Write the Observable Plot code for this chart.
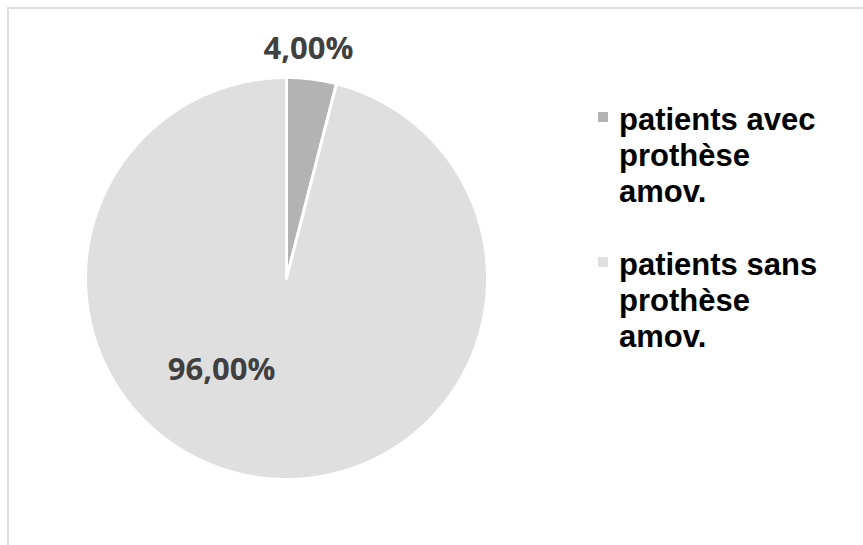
<!DOCTYPE html>
<html>
<head>
<meta charset="utf-8">
<script src="https://cdn.jsdelivr.net/npm/d3@7"></script>
<script src="https://cdn.jsdelivr.net/npm/@observablehq/plot@0.6"></script>
<style>
  html, body { margin: 0; padding: 0; background: #fff; }
  #wrap { position: relative; width: 863px; height: 545px; overflow: hidden; }
  #frame { position: absolute; left: 7px; top: 7px; width: 900px; height: 600px;
           border-top: 2px solid #dcdcdc; border-left: 2px solid #dcdcdc; box-sizing: border-box; }
  #chart { position: absolute; left: 0; top: 0; }
  #legend { position: absolute; left: 598px; top: 0; font-family: "Liberation Sans", Arial, sans-serif;
            font-weight: bold; font-size: 31px; line-height: 36px; color: #000; }
  .item { position: absolute; left: 0; width: 260px; }
  .sw { position: absolute; left: 0; width: 10px; height: 10px; }
  .tx { position: absolute; left: 21px; white-space: nowrap; }
</style>
</head>
<body>
<div id="wrap">
  <div id="frame"></div>
  <div id="chart"></div>
  <div id="legend"></div>
</div>
<script>
// ---- data ----
const categories = ["patients avec prothèse amov.", "patients sans prothèse amov."];
const legendLines = [["patients avec", "prothèse", "amov."], ["patients sans", "prothèse", "amov."]];
const values = [4.00, 96.00];
const labels = ["4,00%", "96,00%"];
const colors = ["#b3b3b3", "#dfdfdf"];

// ---- build slices with d3.pie ----
const pie = d3.pie().sort(null).value(d => d.value);
const arcs = pie(categories.map((c, i) => ({category: c, value: values[i]})));
const slicePts = [];
arcs.forEach(a => {
  const n = Math.max(4, Math.ceil((a.endAngle - a.startAngle) / 0.01));
  slicePts.push({category: a.data.category, x: 0, y: 0});
  for (let k = 0; k <= n; k++) {
    const t = a.startAngle + (a.endAngle - a.startAngle) * k / n;
    slicePts.push({category: a.data.category, x: Math.sin(t), y: Math.cos(t)});
  }
});

// label placement (data units of the unit-radius pie)
const labelPlacement = [
  {r: 1.145, dAngle: -0.03},   // outside, above the small slice
  {x: -0.323, y: -0.458}       // inside the large slice
];
const labelData = arcs.map((a, i) => {
  const p = labelPlacement[i];
  const mid = (a.startAngle + a.endAngle) / 2 + (p.dAngle || 0);
  return p.r != null
    ? {label: labels[i], x: p.r * Math.sin(mid), y: p.r * Math.cos(mid)}
    : {label: labels[i], x: p.x, y: p.y};
});

const chart = Plot.plot({
  width: 863,
  height: 545,
  marginLeft: 85,
  marginRight: 376,
  marginTop: 77,
  marginBottom: 66,
  x: {domain: [-1, 1], axis: null},
  y: {domain: [-1, 1], axis: null},
  color: {domain: categories, range: colors},
  style: {background: "transparent", overflow: "visible"},
  marks: [
    Plot.line(slicePts, {x: "x", y: "y", z: "category", fill: "category",
      stroke: "white", strokeWidth: 3, curve: "linear-closed", strokeLinejoin: "round"}),
    Plot.text(labelData, {x: "x", y: "y", text: "label", fill: "#404040",
      fontSize: 31, fontWeight: "bold", fontFamily: "'Open Sans', sans-serif", textAnchor: "middle"})
  ]
});
document.getElementById("chart").appendChild(chart);

// ---- legend ----
const legend = document.getElementById("legend");
const tops = [107, 252];
categories.forEach((c, i) => {
  const item = document.createElement("div");
  item.className = "item";
  item.style.top = tops[i] + "px";
  const sw = document.createElement("div");
  sw.className = "sw";
  sw.style.background = colors[i];
  sw.style.top = "5px";
  item.appendChild(sw);
  legendLines[i].forEach((ln, j) => {
    const t = document.createElement("div");
    t.className = "tx";
    t.style.top = (j * 36 - 5) + "px";
    t.textContent = ln;
    item.appendChild(t);
  });
  legend.appendChild(item);
});
</script>
</body>
</html>
